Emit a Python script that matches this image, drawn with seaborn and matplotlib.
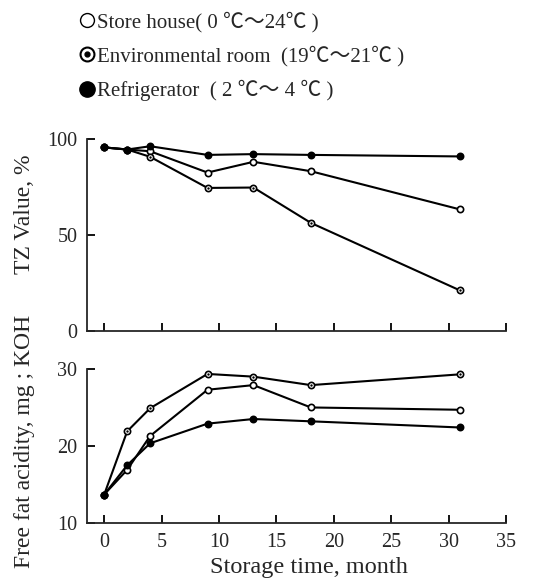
import matplotlib
matplotlib.use("Agg")
import matplotlib.pyplot as plt
from matplotlib.lines import Line2D
from matplotlib.legend_handler import HandlerTuple
import seaborn as sns
import pandas as pd

sns.set_style("ticks")
plt.rcParams['font.family'] = ['Liberation Serif', 'Noto Sans CJK JP', 'DejaVu Sans']

months = [0, 2, 4, 9, 13, 18, 31]
labels = ["Store house( 0 ℃～24℃ )",
          "Environmental room  (19℃～21℃ )",
          "Refrigerator  ( 2 ℃～ 4 ℃ )"]

# TZ value, %
tz_store = [95.7, 94.6, 93.7, 82.6, 88.2, 83.3, 63.4]
tz_env = [95.7, 94.6, 90.8, 74.6, 74.8, 56.4, 21.2]
tz_fridge = [95.7, 94.6, 96.3, 91.8, 92.2, 91.8, 91.0]

# free fat acidity, mg KOH
ffa_store = [13.7, 16.9, 21.3, 27.3, 27.9, 25.0, 24.7]
ffa_env = [13.7, 21.9, 24.9, 29.35, 29.0, 27.9, 29.3]
ffa_fridge = [13.7, 17.5, 20.35, 22.9, 23.5, 23.2, 22.4]

tz = pd.DataFrame({"month": months * 3,
                   "value": tz_store + tz_env + tz_fridge,
                   "cond": ["store"] * 7 + ["env"] * 7 + ["fridge"] * 7})
ffa = pd.DataFrame({"month": months * 3,
                    "value": ffa_store + ffa_env + ffa_fridge,
                    "cond": ["store"] * 7 + ["env"] * 7 + ["fridge"] * 7})

fig = plt.figure(figsize=(5.36, 5.81), dpi=100)
ax1 = fig.add_axes([0.1623, 0.430, 0.7817, 0.3305])
ax2 = fig.add_axes([0.1623, 0.0998, 0.7817, 0.2652])

face = {"store": "white", "env": "white", "fridge": "black"}
ms = 4.5


def draw(ax, df):
    for cond in ["store", "env", "fridge"]:
        d = df[df["cond"] == cond]
        sns.lineplot(data=d, x="month", y="value", ax=ax, color="black",
                     linewidth=1.5, marker="o", markersize=ms,
                     markerfacecolor=face[cond], markeredgecolor="black",
                     markeredgewidth=1.2, clip_on=False)
        if cond == "env":
            sns.scatterplot(data=d, x="month", y="value", ax=ax, color="black",
                            s=3, linewidth=0, zorder=5, clip_on=False)


draw(ax1, tz)
draw(ax2, ffa)

for ax in (ax1, ax2):
    ax.set_xlim(-1.5, 35)
    ax.set_xticks(range(0, 36, 5))
    sns.despine(ax=ax)
    ax.spines['left'].set_linewidth(1.3)
    ax.spines['bottom'].set_linewidth(1.3)
    ax.tick_params(direction="in", length=6, width=1.3, labelsize=14.5,
                   color="black", pad=7)
    ax.set_ylabel("")
    ax.set_xlabel("")

ax1.set_ylim(0, 100)
ax1.set_yticks([0, 50, 100])
ax1.tick_params(axis="x", labelbottom=False)

ax2.set_ylim(10, 30)
ax2.set_yticks([10, 20, 30])

fig.text(0.576, 0.024, "Storage time, month", fontsize=17.5, ha="center", va="center")
fig.text(0.045, 0.632, "TZ Value, %", rotation=90, fontsize=17, ha="center", va="center")
fig.text(0.045, 0.241, "Free fat acidity, mg ; KOH", rotation=90, fontsize=17,
         ha="center", va="center")

h_store = Line2D([], [], linestyle="none", marker="o", markersize=10,
                 markerfacecolor="white", markeredgecolor="black", markeredgewidth=1.0)
h_env_ring = Line2D([], [], linestyle="none", marker="o", markersize=10,
                    markerfacecolor="white", markeredgecolor="black", markeredgewidth=1.5)
h_env_dot = Line2D([], [], linestyle="none", marker="o", markersize=3.5,
                   markerfacecolor="black", markeredgecolor="black")
h_fridge = Line2D([], [], linestyle="none", marker="o", markersize=11,
                  markerfacecolor="black", markeredgecolor="black")
fig.legend([h_store, (h_env_ring, h_env_dot), h_fridge], labels,
           handler_map={tuple: HandlerTuple(ndivide=1, pad=0)},
           loc="upper left", bbox_to_anchor=(0.13, 1.0), frameon=False,
           fontsize=15, handlelength=0.6, handletextpad=0.15, labelspacing=0.65,
           borderaxespad=0.15)

fig.savefig("out.png", dpi=100)
